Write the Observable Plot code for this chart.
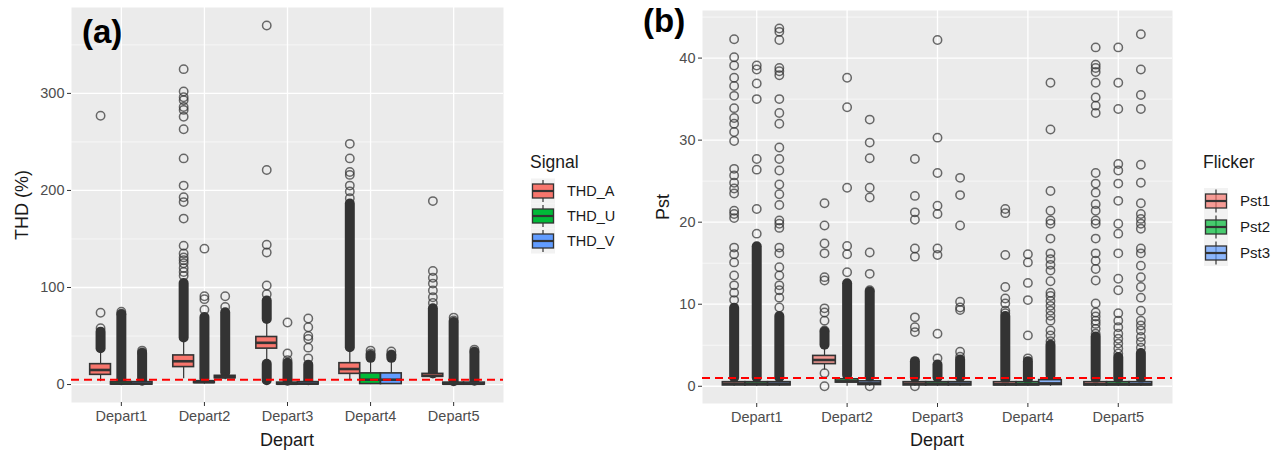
<!DOCTYPE html>
<html><head><meta charset="utf-8">
<script src="https://cdn.jsdelivr.net/npm/d3@7"></script>
<script src="https://cdn.jsdelivr.net/npm/@observablehq/plot@0.6"></script>
<style>
body{margin:0;background:#fff;font-family:"Liberation Sans",Arial,sans-serif;}
#wrap{position:relative;width:1280px;height:457px;overflow:hidden;background:#fff;}
#wrap > svg{position:absolute;top:0;}
</style></head><body><div id="wrap"></div>
<script>
// ---------- data ----------
const departs = ["Depart1","Depart2","Depart3","Depart4","Depart5"];
const signalsA = ["THD_A","THD_U","THD_V"];
const signalsB = ["Pst1","Pst2","Pst3"];
const fillColors = ["#F8766D","#00BA38","#619CFF"];

// box stats per depart: [lower whisker, Q1, median, Q3, upper whisker]
const statsTHD_A = [[3,10,15,21,37],[6,18,24,30,48],[24,37,43,49,67],[5,11,16,22,38],[6,8,9,11,15]];
const statsTHD_U = [[0,0,1,2.5,4],[0.5,1.5,2.5,3.5,6],[0,0,0.8,2,3.5],[0,0.5,5,11.5,27],[0,0,0.8,2,3]];
const statsTHD_V = [[0,0,1,2.5,3.5],[5,6.5,7.5,9,12],[0,0,1,2.5,4],[0,0.5,5,11.5,27],[0,0,0.8,2,3.5]];

// runs of overlapping outliers: [signal index, depart index, from, to]
const denseA = [
  [0,0,37,54],[0,1,48,104],[0,2,67,86],[0,2,4,21],[0,3,38,186],[0,4,11,78],
  [1,0,4,72],[1,1,6,69],[1,2,3.5,22],[1,3,27,30],[1,4,3,64],
  [2,0,3.5,32],[2,1,12,74],[2,2,4,20],[2,3,27,30],[2,4,3.5,33]
];
// isolated outliers per depart
const outTHD_A = [[58,74,277],[112,116,120,125,128,131,135,143,171,188,193,205,233,263,276,283,286,293,296,302,325],[93,102,136,144,221,370],[192,199,205,216,219,233,248],[84,90,97,104,110,117,189]];
const outTHD_U = [[73,75],[77,88,91,140],[25,32,64],[32,35],[66,69]];
const outTHD_V = [[33,35],[80,91],[27,38,47,50,59,68],[31,34],[34,36]];

const statsPst1 = [[0,0.1,0.3,0.5,1],[2,2.7,3.2,3.7,5],[0,0.1,0.3,0.5,1],[0,0.1,0.25,0.5,0.8],[0,0.1,0.25,0.5,0.9]];
const statsPst2 = [[0,0.1,0.3,0.5,1],[0,0.45,0.6,0.85,1.3],[0,0.1,0.3,0.5,1],[0,0.1,0.25,0.5,0.8],[0,0.1,0.25,0.5,0.9]];
const statsPst3 = [[0,0.1,0.3,0.5,1],[0,0.15,0.35,0.6,1.1],[0,0.1,0.3,0.5,1],[0,0.15,0.35,0.75,1.3],[0,0.1,0.25,0.5,0.9]];

const denseB = [
  [0,0,1,9.5],[0,1,5,6.6],[0,2,1,3],[0,3,0.8,8.5],[0,4,0.9,6],
  [1,0,1,17],[1,1,1.3,12.5],[1,2,1,2.6],[1,3,0.8,3],[1,4,0.9,3.5],
  [2,0,1,8.5],[2,1,1.1,11.5],[2,2,1,3.2],[2,3,1.3,5],[2,4,0.9,4]
];
const outPst1 = [
  [10.5,11.4,12.3,13.5,15.1,16.1,16.9,20.5,21,21.4,23.5,24.1,24.8,25.7,26.5,29.9,31,32,32.7,33.9,35.4,36.6,37.6,39.1,40.1,42.3],
  [0,1.6,6.8,8,9,9.5,12.9,13.3,16.2,17.4,19.6,22.3],
  [0,6.6,7.2,8.4,15.8,16.8,20.3,21.2,23.2,27.7],
  [8.9,9.2,10.1,10.7,12.1,16,21.1,21.6],
  [6.4,7,7.6,8,8.5,9,10.1,12.9,14.3,15.3,16.2,18,19.8,20.2,21.4,22.2,23.6,24.7,26,33.3,34.2,35.2,37,38.3,38.8,39.2,41.3]
];
const outPst2 = [
  [18.6,21.6,26.4,27.7,35,36.9,38.6,39.1],
  [13.9,16.1,17.1,24.2,34,37.6],
  [3.4,6.4,16,16.8,21,22,26,30.3,42.2],
  [3.4,6.2,10.5,12.6,15.1,16.1],
  [4,4.6,5.2,5.8,6.4,7.2,8,8.9,11.7,13.1,16.2,18.6,19.8,22.6,24.7,26.3,27.1,33.8,37,41.3]
];
const outPst3 = [
  [9.6,10.8,11.7,12.3,13.5,14.5,16.2,16.9,19.3,19.8,20.2,22.1,23.4,24.6,26.3,27.7,29.1,32,33.3,35,37.9,38.4,38.8,42.2,43.2,43.6],
  [0,11.7,13.7,16.3,23,24.2,27.8,29.7,32.5],
  [3.6,4.2,9.3,9.6,10.3,19.6,23.3,25.4],
  [5.5,6.2,6.8,8,8.6,9.2,9.8,10.4,11,11.4,12.8,14.1,14.8,15.5,16.2,18,19.8,20.2,21.4,23.8,31.3,37],
  [4.7,5.4,6,6.8,7.4,8,9.2,10.8,12.1,13.3,14.7,16.2,16.8,19.2,19.8,20.4,21,22.3,24.8,27,33.8,35.5,38.6,42.9]
];

const yMajorA = [0,100,200,300], yMinorA = [50,150,250,350];
const yMajorB = [0,10,20,30,40], yMinorB = [5,15,25,35,45];
const limitA = 5, limitB = 1;

// ---------- drawing ----------
const dodge = 0.25;
const departIdx = departs.map((d, i) => i);

function panel({stats, dense, outliers, yDomain, yMajor, yMinor, limit, width, marginLeft, marginRight, marginTop, marginBottom, fillOpacity, fontSize}) {
  const boxes = [], cols = [], dots = [];
  stats.forEach((series, j) => series.forEach((s, i) => {
    const x = i + (j - 1) * dodge;
    boxes.push({j, x, x1: x - dodge / 2, x2: x + dodge / 2, lo: s[0], q1: s[1], med: s[2], q3: s[3], hi: s[4]});
  }));
  dense.forEach(([j, i, from, to]) => cols.push({x: i + (j - 1) * dodge, from, to}));
  outliers.forEach((series, j) => series.forEach((vals, i) => vals.forEach(v => dots.push({x: i + (j - 1) * dodge, y: v}))));
  return Plot.plot({
    width, height: 457, marginLeft, marginRight, marginTop, marginBottom,
    style: {fontFamily: "'Liberation Sans', Arial, sans-serif", color: "#4D4D4D", background: "transparent"},
    x: {domain: [-0.6, 4.6], axis: null},
    y: {domain: yDomain, axis: null},
    color: {type: "ordinal", domain: [0, 1, 2], range: fillColors},
    marks: [
      Plot.frame({fill: "#EBEBEB", stroke: null}),
      Plot.ruleY(yMinor, {stroke: "white", strokeWidth: 0.6}),
      Plot.ruleY(yMajor, {stroke: "white", strokeWidth: 1.3}),
      Plot.ruleX(departIdx, {stroke: "white", strokeWidth: 1.3}),
      Plot.dot(dots, {x: "x", y: "y", r: 4.2, stroke: "#333", strokeOpacity: 0.72, strokeWidth: 1.5, fill: "none"}),
      Plot.ruleX(cols, {x: "x", y1: "from", y2: "to", stroke: "#333", strokeWidth: 10, strokeLinecap: "round"}),
      Plot.ruleX(boxes, {x: "x", y1: "lo", y2: "q1", stroke: "#333", strokeWidth: 1.2}),
      Plot.ruleX(boxes, {x: "x", y1: "q3", y2: "hi", stroke: "#333", strokeWidth: 1.2}),
      Plot.rect(boxes, {x1: "x1", x2: "x2", y1: "q1", y2: "q3", fill: "j", fillOpacity, stroke: "#333", strokeWidth: 1.6}),
      Plot.ruleY(boxes, {x1: "x1", x2: "x2", y: "med", stroke: "#333", strokeWidth: 2.6}),
      Plot.ruleY([limit], {stroke: "#FF0000", strokeWidth: 2, strokeDasharray: "8,5"}),
      Plot.axisX({ticks: departIdx, tickFormat: i => departs[i], tickSize: 4, tickPadding: 4, fontSize, stroke: "#333", fill: "#4D4D4D", label: null}),
      Plot.axisY({ticks: yMajor, tickSize: 4, tickPadding: 3, fontSize, stroke: "#333", fill: "#4D4D4D", label: null})
    ]
  });
}

const wrap = document.getElementById("wrap");
const svgA = panel({
  stats: [statsTHD_A, statsTHD_U, statsTHD_V], dense: denseA, outliers: [outTHD_A, outTHD_U, outTHD_V],
  yDomain: [-18.5, 388.5], yMajor: yMajorA, yMinor: yMinorA, limit: limitA,
  width: 515, marginLeft: 71, marginRight: 12, marginTop: 7, marginBottom: 55, fillOpacity: 1, fontSize: 14.5
});
svgA.style.left = "0px";
wrap.appendChild(svgA);
const svgB = panel({
  stats: [statsPst1, statsPst2, statsPst3], dense: denseB, outliers: [outPst1, outPst2, outPst3],
  yDomain: [-2.1, 45.8], yMajor: yMajorB, yMinor: yMinorB, limit: limitB,
  width: 640, marginLeft: 62, marginRight: 108, marginTop: 10, marginBottom: 54, fillOpacity: 0.7, fontSize: 14.5
});
svgB.style.left = "640px";
wrap.appendChild(svgB);

// overlay: titles, panel tags, legends
const ov = d3.select(wrap).append("svg")
  .attr("width", 1280).attr("height", 457)
  .style("position", "absolute").style("left", "0px").style("top", "0px")
  .style("font-family", "'Liberation Sans', Arial, sans-serif");

ov.append("text").attr("x", 82).attr("y", 43).attr("font-size", 33).attr("font-weight", "bold").attr("fill", "#000").text("(a)");
ov.append("text").attr("x", 643).attr("y", 32).attr("font-size", 33).attr("font-weight", "bold").attr("fill", "#000").text("(b)");

ov.append("text").attr("transform", "translate(28,205) rotate(-90)").attr("text-anchor", "middle").attr("font-size", 18).attr("fill", "#1a1a1a").text("THD (%)");
ov.append("text").attr("transform", "translate(669,207) rotate(-90)").attr("text-anchor", "middle").attr("font-size", 18).attr("fill", "#1a1a1a").text("Pst");
ov.append("text").attr("x", 287).attr("y", 446).attr("text-anchor", "middle").attr("font-size", 18).attr("fill", "#1a1a1a").text("Depart");
ov.append("text").attr("x", 937).attr("y", 446).attr("text-anchor", "middle").attr("font-size", 18).attr("fill", "#1a1a1a").text("Depart");

function legend(title, labels, x, titleY, rowTop, rowH, keyW, labelX, opacity, fs) {
  ov.append("text").attr("x", x - 1).attr("y", titleY).attr("font-size", 17.5).attr("fill", "#1a1a1a").text(title);
  labels.forEach((lab, k) => {
    const top = rowTop + k * rowH, cy = top + rowH / 2;
    const g = ov.append("g");
    g.append("rect").attr("x", x).attr("y", top).attr("width", keyW).attr("height", rowH).attr("fill", "#F2F2F2");
    g.append("line").attr("x1", x + keyW / 2).attr("x2", x + keyW / 2).attr("y1", top + 1.5).attr("y2", top + rowH - 1.5).attr("stroke", "#333").attr("stroke-width", 1.2);
    g.append("rect").attr("x", x + 1.5).attr("y", cy - 7).attr("width", keyW - 3).attr("height", 14)
      .attr("fill", fillColors[k]).attr("fill-opacity", opacity).attr("stroke", "#333").attr("stroke-width", 1.3);
    g.append("line").attr("x1", x + 1.5).attr("x2", x + keyW - 1.5).attr("y1", cy).attr("y2", cy).attr("stroke", "#333").attr("stroke-width", 2.2);
    ov.append("text").attr("x", labelX).attr("y", cy + 5).attr("font-size", fs).attr("fill", "#1a1a1a").text(lab);
  });
}
legend("Signal", signalsA, 531, 168, 178.5, 25, 24, 567, 1, 14.5);
legend("Flicker", signalsB, 1204, 168, 188, 26, 24, 1240, 0.7, 15);
</script></body></html>
